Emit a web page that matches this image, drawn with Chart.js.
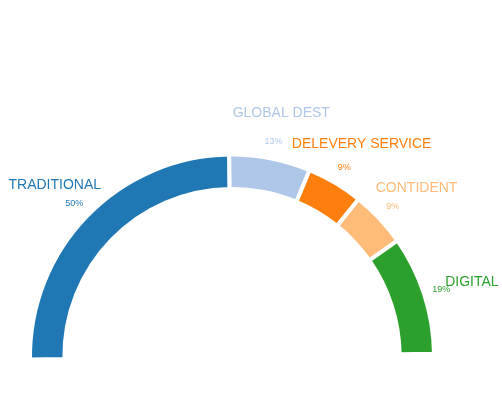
<!DOCTYPE html>
<html>
<head>
<meta charset="utf-8">
<script src="https://cdn.jsdelivr.net/npm/chart.js@4"></script>
<style>
  html, body { margin: 0; padding: 0; background: #fff; }
  #wrap { width: 502px; height: 403px; position: relative; }
</style>
</head>
<body>
<div id="wrap"><canvas id="gauge"></canvas></div>
<script>
// half donut with channel shares

const categories = ["TRADITIONAL", "GLOBAL DEST", "DELEVERY SERVICE", "CONTIDENT", "DIGITAL"];
const shares = [50, 13, 9, 9, 19];
const sliceColors = ["#1f77b4", "#aec7e8", "#ff7f0e", "#ffbb78", "#2ca02c"];

// подписи: имя категории снаружи, процент чуть ближе к дуге
const outerLabels = {
  id: "outerLabels",
  afterDatasetsDraw(chart) {
    const { ctx } = chart;
    const arcs = chart.getDatasetMeta(0).data;
    ctx.save();
    ctx.textAlign = "center";
    ctx.textBaseline = "middle";
    arcs.forEach((arc, i) => {
      const { x, y, startAngle, endAngle, outerRadius } = arc.getProps(["x", "y", "startAngle", "endAngle", "outerRadius"], true);
      const mid = (startAngle + endAngle) / 2;
      ctx.fillStyle = sliceColors[i];

      ctx.font = "14px 'Liberation Sans', Arial, sans-serif";
      const rName = outerRadius + 48;
      ctx.fillText(categories[i], x + 2 + Math.cos(mid) * rName, y + 2.5 + Math.sin(mid) * rName);

      ctx.font = "9px 'Liberation Sans', Arial, sans-serif";
      const rPct = outerRadius + 18;
      ctx.fillText(shares[i] + "%", x + Math.cos(mid) * rPct, y + 0.5 + Math.sin(mid) * rPct);
    });
    ctx.restore();
  }
};

new Chart(document.getElementById("gauge"), {
  type: "doughnut",
  data: {
    labels: categories,
    datasets: [{
      data: shares,
      backgroundColor: sliceColors,
      borderColor: "#ffffff",
      borderWidth: 4,
      hoverOffset: 0
    }]
  },
  options: {
    responsive: true,
    maintainAspectRatio: false,
    animation: false,
    rotation: -90.8,
    circumference: 180,
    radius: 202,
    cutout: "83%",
    layout: { padding: { left: 0, right: 38, top: 146, bottom: 35 } },
    plugins: {
      legend: { display: false },
      tooltip: { enabled: false }
    }
  },
  plugins: [outerLabels]
});
</script>
</body>
</html>
